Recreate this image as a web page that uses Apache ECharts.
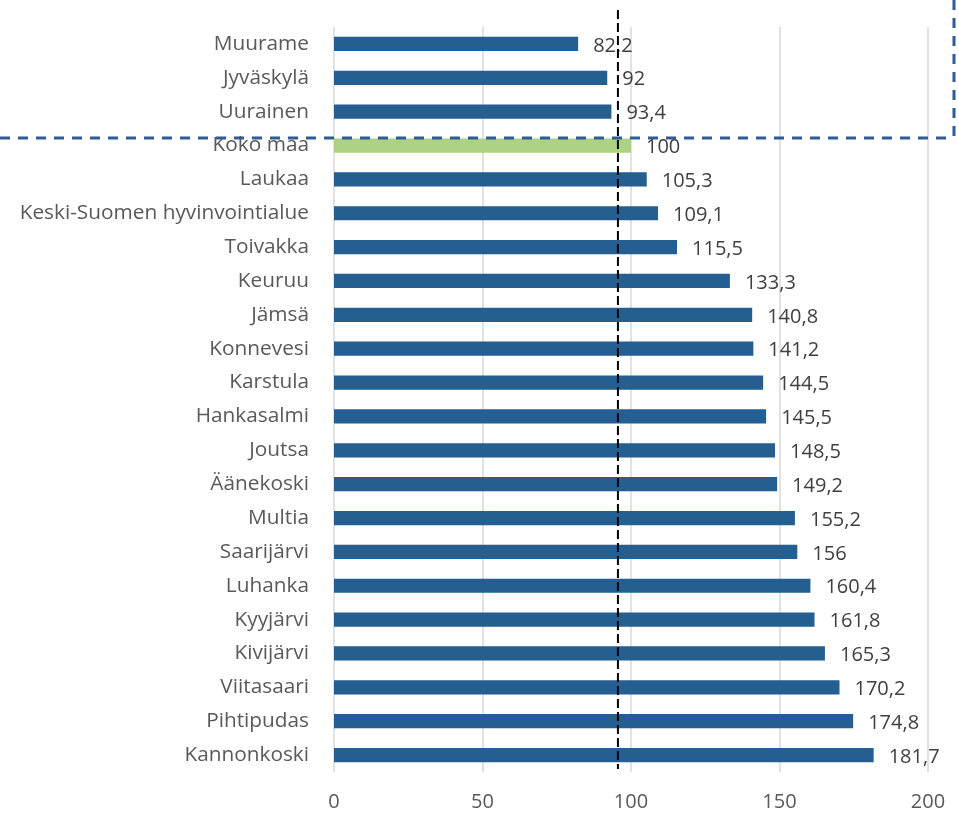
<!DOCTYPE html>
<html><head><meta charset="utf-8">
<script src="https://cdn.jsdelivr.net/npm/echarts@6/dist/echarts.min.js"></script>
<style>html,body{margin:0;padding:0;background:#fff}#c{width:958px;height:813px}</style>
</head><body><div id="c"></div>
<script>
const categories = ["Muurame","Jyväskylä","Uurainen","Koko maa","Laukaa","Keski-Suomen hyvinvointialue","Toivakka","Keuruu","Jämsä","Konnevesi","Karstula","Hankasalmi","Joutsa","Äänekoski","Multia","Saarijärvi","Luhanka","Kyyjärvi","Kivijärvi","Viitasaari","Pihtipudas","Kannonkoski"];
const values = [82.2,92,93.4,100,105.3,109.1,115.5,133.3,140.8,141.2,144.5,145.5,148.5,149.2,155.2,156,160.4,161.8,165.3,170.2,174.8,181.7];
const highlight = "Koko maa";
const referenceValue = 95.6;
const xTicks = [0,50,100,150,200];

const FONT = "Open Sans";
const chart = echarts.init(document.getElementById('c'), null, {renderer:'canvas'});
const option = {
  animation:false,
  backgroundColor:'#fff',
  grid:{left:334,right:30,top:27,bottom:41,containLabel:false},
  xAxis:{type:'value',min:xTicks[0],max:xTicks[xTicks.length-1],interval:50,
    axisLine:{show:false},axisTick:{show:false},
    splitLine:{show:true,lineStyle:{color:'#D9D9D9',width:1.5}},
    axisLabel:{color:'#595959',fontFamily:FONT,fontSize:20,margin:20}},
  yAxis:{type:'category',inverse:true,data:categories,
    axisLine:{show:false},axisTick:{show:false},
    axisLabel:{color:'#595959',fontFamily:FONT,fontSize:20.8,margin:25}},
  series:[{type:'bar',barWidth:'42%',
    data:values.map((v,i)=>({value:v,itemStyle:{color:categories[i]===highlight?'#AED283':'#255E91'}})),
    label:{show:true,position:'right',distance:15,color:'#404040',fontFamily:FONT,fontSize:20,
      offset:[0,2],
      formatter:p=>String(p.value).replace('.',',')}}]
};
chart.setOption(option);
const x0 = chart.convertToPixel({xAxisIndex:0},referenceValue);
const yBot = chart.convertToPixel({yAxisIndex:0},categories[categories.length-1]);
chart.setOption({graphic:[
  {type:'line',shape:{x1:x0,y1:10,x2:x0,y2:yBot+14},style:{stroke:'#000',lineWidth:2,lineDash:[9,4]},z:100},
  {type:'line',shape:{x1:0,y1:138,x2:954,y2:138},style:{stroke:'#2E5C96',lineWidth:3,lineDash:[10,8]},z:100},
  {type:'line',shape:{x1:954,y1:0,x2:954,y2:138},style:{stroke:'#2E5C96',lineWidth:3,lineDash:[10,8]},z:100}
]});
</script></body></html>
